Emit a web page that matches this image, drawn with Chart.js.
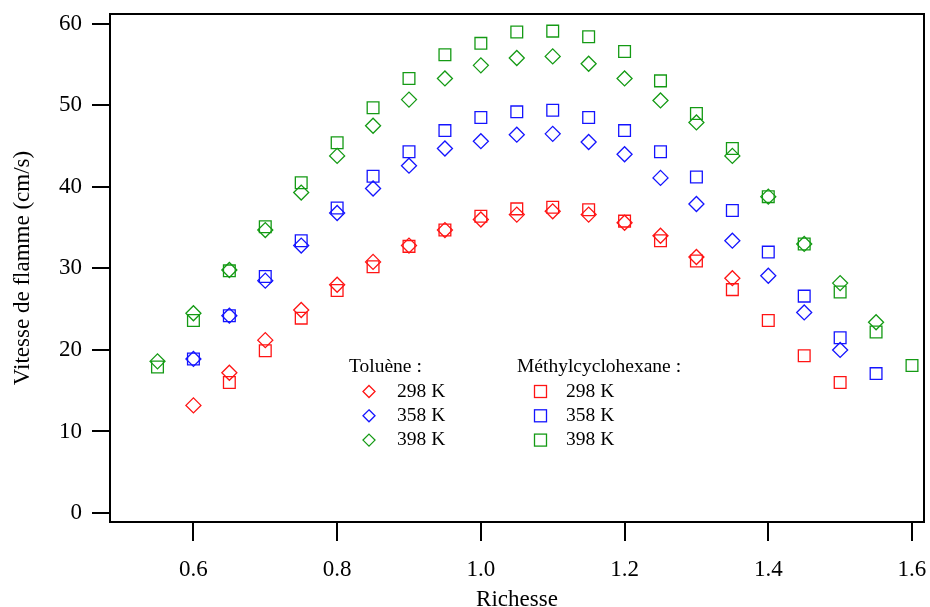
<!DOCTYPE html>
<html>
<head>
<meta charset="utf-8">
<script src="https://cdn.jsdelivr.net/npm/chart.js@4/dist/chart.umd.min.js"></script>
<style>
  html, body { margin: 0; padding: 0; background: #fff; }
  #wrap { width: 930px; height: 607px; position: relative; }
</style>
</head>
<body>
<div id="wrap"><canvas id="chart-flamme"></canvas></div>
<script>
(function () {
    'use strict';

    // Richesse (x) et vitesses de flamme (cm/s), null = pas de mesure
    const RICHESSE = [0.55, 0.60, 0.65, 0.70, 0.75, 0.80, 0.85, 0.90, 0.95, 1.00, 1.05,
                      1.10, 1.15, 1.20, 1.25, 1.30, 1.35, 1.40, 1.45, 1.50, 1.55, 1.60];

    const TOL_298 = [null, 13.2, 17.2, 21.2, 24.9, 28.0, 30.8, 32.8, 34.7, 36.0, 36.6,
                     37.0, 36.6, 35.6, 34.0, 31.4, 28.8, null, null, null, null, null];
    const TOL_358 = [null, 18.9, 24.2, 28.5, 32.8, 36.8, 39.8, 42.6, 44.7, 45.6, 46.4,
                     46.5, 45.5, 44.0, 41.1, 37.9, 33.4, 29.1, 24.6, 20.0, null, null];
    const TOL_398 = [18.6, 24.5, 29.8, 34.7, 39.3, 43.8, 47.5, 50.7, 53.3, 54.9, 55.8,
                     56.0, 55.1, 53.3, 50.6, 47.9, 43.8, 38.8, 33.0, 28.2, 23.4, null];

    const MCH_298 = [null, null, 16.0, 19.9, 23.9, 27.3, 30.2, 32.7, 34.7, 36.4, 37.3,
                     37.5, 37.2, 35.8, 33.4, 30.9, 27.4, 23.6, 19.3, 16.0, null, null];
    const MCH_358 = [null, 18.9, 24.2, 29.0, 33.4, 37.4, 41.3, 44.3, 46.9, 48.5, 49.2,
                     49.4, 48.5, 46.9, 44.3, 41.2, 37.1, 32.0, 26.6, 21.5, 17.1, null];
    const MCH_398 = [17.9, 23.6, 29.7, 35.1, 40.5, 45.4, 49.7, 53.3, 56.2, 57.6, 59.0,
                     59.1, 58.4, 56.6, 53.0, 49.0, 44.7, 38.8, 33.0, 27.1, 22.2, 18.1];

    const X_TICKS = [0.6, 0.8, 1.0, 1.2, 1.4, 1.6];
    const Y_TICKS = [0, 10, 20, 30, 40, 50, 60];
    const TEMPS = ['298 K', '358 K', '398 K'];

    const RED = '#ff1414';
    const BLUE = '#1414ff';
    const GREEN = '#149a14';
    const COLORS = [RED, BLUE, GREEN];

    const FONT = '"Liberation Serif", "Times New Roman", serif';

    function points(values) {
        const out = [];
        values.forEach((v, i) => { if (v !== null) out.push({ x: RICHESSE[i], y: v }); });
        return out;
    }

    function diamondSet(label, values, color) {
        return {
            label: label, data: points(values),
            pointStyle: 'rectRot', pointRadius: 7.5, pointHoverRadius: 7.5,
            borderColor: color, backgroundColor: 'rgba(0,0,0,0)',
            pointBorderWidth: 1.3, showLine: false,
        };
    }

    function squareSet(label, values, color) {
        return {
            label: label, data: points(values),
            pointStyle: 'rect', pointRadius: 8.3, pointHoverRadius: 8.3,
            borderColor: color, backgroundColor: 'rgba(0,0,0,0)',
            pointBorderWidth: 1.3, showLine: false,
        };
    }

    // Cadre complet autour de la zone de tracé
    const framePlugin = {
        id: 'frame',
        afterDraw(chart) {
            const a = chart.chartArea, ctx = chart.ctx;
            ctx.save();
            ctx.strokeStyle = '#000';
            ctx.lineWidth = 2;
            ctx.strokeRect(a.left, a.top, a.right - a.left, a.bottom - a.top);
            ctx.restore();
        }
    };

    // Légende en deux colonnes (Toluène / Méthylcyclohexane)
    const legendPlugin = {
        id: 'legendeDeuxColonnes',
        afterDraw(chart) {
            const ctx = chart.ctx;
            ctx.save();
            ctx.fillStyle = '#000';
            ctx.font = '19.5px ' + FONT;
            ctx.textBaseline = 'middle';
            ctx.textAlign = 'left';
            ctx.fillText('Toluène :', 349, 367);
            ctx.fillText('Méthylcyclohexane :', 517, 367);
            ctx.lineWidth = 1.3;
            TEMPS.forEach((t, i) => {
                const y = 391.5 + i * 24.3;
                ctx.strokeStyle = COLORS[i];
                ctx.beginPath();
                ctx.moveTo(369, y - 6); ctx.lineTo(375, y); ctx.lineTo(369, y + 6); ctx.lineTo(363, y);
                ctx.closePath();
                ctx.stroke();
                ctx.strokeRect(534.5, y - 6, 12, 12);
                ctx.fillStyle = '#000';
                ctx.fillText(t, 397, y);
                ctx.fillText(t, 566, y);
            });
            ctx.restore();
        }
    };

    const tickFont = { family: FONT, size: 23 };

    new Chart(document.getElementById('chart-flamme'), {
        type: 'scatter',
        data: {
            datasets: [
                diamondSet('Toluène 298 K', TOL_298, RED),
                diamondSet('Toluène 358 K', TOL_358, BLUE),
                diamondSet('Toluène 398 K', TOL_398, GREEN),
                squareSet('Méthylcyclohexane 298 K', MCH_298, RED),
                squareSet('Méthylcyclohexane 358 K', MCH_358, BLUE),
                squareSet('Méthylcyclohexane 398 K', MCH_398, GREEN),
            ],
        },
        options: {
            responsive: true,
            maintainAspectRatio: false,
            animation: false,
            layout: { autoPadding: false, padding: { left: 0, right: 6, top: 14, bottom: 0 } },
            plugins: {
                legend: { display: false },
                tooltip: { enabled: false },
            },
            scales: {
                x: {
                    type: 'linear',
                    min: 0.4839, max: 1.6167,
                    afterBuildTicks: (axis) => { axis.ticks = X_TICKS.map(v => ({ value: v })); },
                    afterFit: (scale) => {
                        scale.height = 85;
                        scale.paddingLeft = 0;
                        scale.paddingRight = 0;
                    },
                    ticks: {
                        color: '#000', font: tickFont, padding: 15,
                        maxRotation: 0, autoSkip: false,
                        callback: (v) => Number(v).toFixed(1),
                    },
                    grid: { drawOnChartArea: false, drawTicks: true, tickLength: 19, color: '#000', lineWidth: 2 },
                    border: { display: true, color: '#000', width: 2 },
                    title: {
                        display: true, text: 'Richesse', color: '#000',
                        font: { family: FONT, size: 23, lineHeight: 1.0 },
                        padding: { top: 0, bottom: -4 },
                    },
                },
                y: {
                    type: 'linear',
                    min: -1.1, max: 61.2,
                    afterBuildTicks: (axis) => { axis.ticks = Y_TICKS.map(v => ({ value: v })); },
                    afterFit: (scale) => {
                        scale.width = 110;
                        scale.paddingTop = 0;
                        scale.paddingBottom = 0;
                    },
                    ticks: { color: '#000', font: tickFont, padding: 10, autoSkip: false },
                    grid: { drawOnChartArea: false, drawTicks: true, tickLength: 18, color: '#000', lineWidth: 2 },
                    border: { display: true, color: '#000', width: 2 },
                    title: {
                        display: true, text: 'Vitesse de flamme (cm/s)', color: '#000',
                        font: { family: FONT, size: 23, lineHeight: 1.0 },
                        padding: { top: 11, bottom: 0 },
                    },
                },
            },
        },
        plugins: [framePlugin, legendPlugin],
    });
})();
</script>
</body>
</html>
